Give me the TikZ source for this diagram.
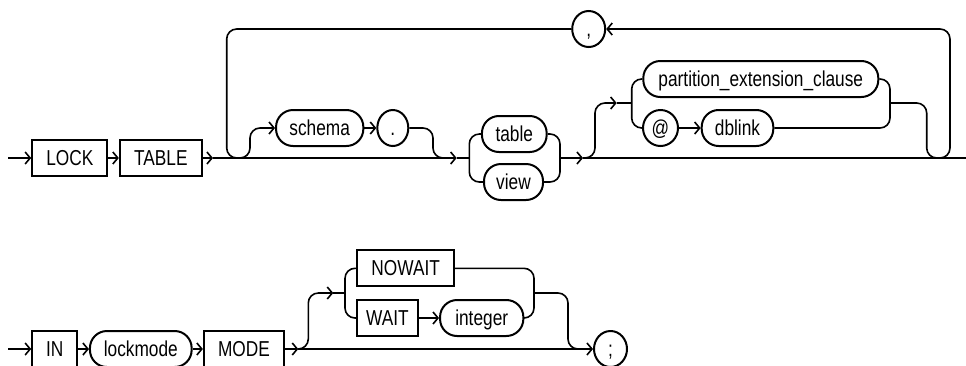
\documentclass[tikz,border=0pt]{standalone}
\usepackage{fontspec}
\setmainfont{Liberation Sans}[FakeStretch=0.8]
\usetikzlibrary{arrows.meta,shapes.geometric}

\begin{document}
\begin{tikzpicture}[x=1pt, y=-1pt,
  every node/.style={font=\fontsize{21.6}{24}\selectfont, inner sep=0pt,
                     text height=14pt, text depth=0pt},
  kwbox/.style={draw, line width=2.2pt, minimum height=36pt},
  ovalbox/.style={draw, line width=2pt, rounded corners=17pt, minimum height=36pt},
  punct/.style={draw, line width=2pt, ellipse, minimum width=33pt, minimum height=36pt},
  rail/.style={line width=1.6pt, rounded corners=10pt},
  arr/.style={rail, -{Straight Barb[length=5pt,width=12pt]}}
]
\useasboundingbox (0,0) rectangle (966,365);
% first line
\node[kwbox, minimum width=75pt] (lock) at (69.8,158) {LOCK};
\node[kwbox, minimum width=81.7pt] (tablekw) at (160.8,158) {TABLE};
\node[ovalbox, minimum width=87.3pt] (schema) at (319.7,128) {schema};
\node[punct, minimum width=31pt] (dot) at (392.8,128) {.};
\node[ovalbox, minimum width=64.7pt] (table) at (514.3,134) {table};
\node[ovalbox, minimum width=59pt] (view) at (513.5,182) {view};
\node[punct] (comma) at (588.7,29) {,};
\node[ovalbox, minimum width=235pt] (pext) at (760.8,79) {partition\_extension\_clause};
\node[punct, minimum width=35pt] (atsign) at (660.5,128) {@};
\node[ovalbox, minimum width=71.6pt] (dblink) at (737.5,128) {dblink};
\coordinate (start1) at (8,158);
\coordinate (a1) at (213,158);
\coordinate (jl) at (238.3,158);
\coordinate (jd) at (445,158);
\coordinate (a2) at (456.7,158);
\coordinate (tvl) at (469.3,158);
\coordinate (tvr) at (560,158);
\coordinate (a3) at (583,158);
\coordinate (pu) at (595,103);
\coordinate (a4) at (616.7,103);
\coordinate (pl) at (631.7,103);
\coordinate (pr) at (890,103);
\coordinate (pd) at (926.7,103);
\coordinate (jr) at (938.3,158);
\coordinate (end1) at (966,158);
\coordinate (loopl) at (226.7,29);
\coordinate (loopr) at (950,29);
\coordinate (sl) at (250,128);
\coordinate (sr) at (433,128);
\draw[arr] (start1) -- (lock);
\draw[arr] (lock) -- (tablekw);
\draw[arr] (tablekw) -- (a1);
\draw[arr] (a1) -- (a2);
\draw[rail] (a2) -- (tvl);
\draw[rail] (table.west) -| (tvl) |- (view.west);
\draw[rail] (table.east) -| (tvr) |- (view.east);
\draw[arr] (tvr) -- (a3);
\draw[rail] (a3) -- (end1);
\draw[arr] (jr) -| (loopr) -- (comma.east);
\draw[rail] (comma.west) -- (loopl) |- (jl);
\draw[arr] (jl) -| (sl) -- (schema.west);
\draw[arr] (schema) -- (dot);
\draw[rail] (dot.east) -- (sr) |- (jd);
\draw[arr] (a3) -| (pu) -- (a4);
\draw[rail] (a4) -- (pl);
\draw[rail] (pext.west) -| (pl) |- (atsign.west);
\draw[arr] (atsign) -- (dblink);
\draw[rail] (pext.east) -| (pr) |- (dblink.east);
\draw[rail] (pr) -- (pd) |- (jr);
% second line
\node[kwbox, minimum width=45pt] (inkw) at (54.8,349) {IN};
\node[ovalbox, minimum width=101.7pt] (lockmode) at (140.8,349) {lockmode};
\node[kwbox, minimum width=80pt] (mode) at (244,349) {MODE};
\node[kwbox, minimum width=96.7pt] (nowait) at (405.7,268.3) {NOWAIT};
\node[kwbox, minimum width=60.3pt] (wait) at (387.5,318) {WAIT};
\node[ovalbox, minimum width=83.3pt] (integer) at (481.7,318) {integer};
\node[punct] (semi) at (610.5,349) {;};
\coordinate (start2) at (8,349);
\coordinate (b1) at (298.3,349);
\coordinate (bu) at (308.3,293);
\coordinate (b2) at (333.3,293);
\coordinate (cl) at (345,293);
\coordinate (cr) at (534,293);
\coordinate (cd) at (568,293);
\coordinate (jb) at (578,349);
\draw[arr] (start2) -- (inkw);
\draw[arr] (inkw) -- (lockmode);
\draw[arr] (lockmode) -- (mode);
\draw[arr] (mode) -- (b1);
\draw[arr] (b1) -- (semi);
\draw[arr] (b1) -| (bu) -- (b2);
\draw[rail] (b2) -- (cl);
\draw[rail] (nowait.west) -| (cl) |- (wait.west);
\draw[arr] (wait) -- (integer);
\draw[rail] (nowait.east) -| (cr) |- (integer.east);
\draw[rail] (cr) -- (cd) |- (jb);
\end{tikzpicture}
\end{document}
